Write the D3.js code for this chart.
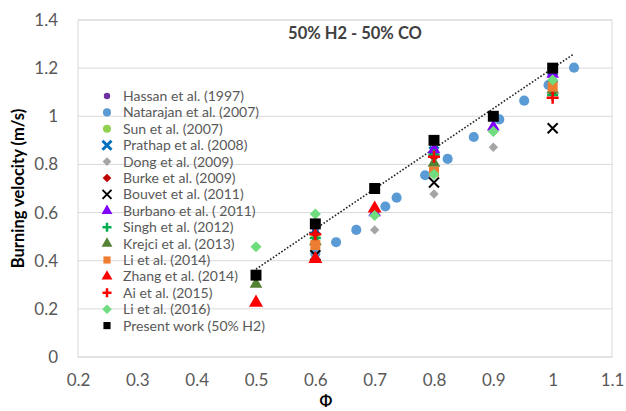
<!DOCTYPE html>
<html>
<head>
<meta charset="utf-8">
<script src="https://cdn.jsdelivr.net/npm/d3@7"></script>
<style>
  body { margin: 0; background: #fff; }
  text { font-family: Lato, "Open Sans", sans-serif; }
</style>
</head>
<body>
<script>
// x ticks / y ticks
const xTicks = [0.2, 0.3, 0.4, 0.5, 0.6, 0.7, 0.8, 0.9, 1, 1.1];
const yTicks = [0, 0.2, 0.4, 0.6, 0.8, 1, 1.2, 1.4];

// each study: [phi, burning velocity]
const hassan = [[0.6, 0.53], [0.8, 0.86], [1.0, 1.17]];
const natarajan = [[0.6, 0.43], [0.635, 0.477], [0.669, 0.528], [0.718, 0.625], [0.737, 0.662],
  [0.785, 0.755], [0.823, 0.823], [0.867, 0.914], [0.91, 0.987], [0.952, 1.065], [0.993, 1.13], [1.036, 1.202]];
const sun = [[0.6, 0.5], [0.8, 0.845], [1.0, 1.135]];
const prathap = [[0.6, 0.528], [0.8, 0.855], [1.0, 1.16]];
const dong = [[0.7, 0.528], [0.8, 0.677], [0.9, 0.871]];
const burke = [[0.6, 0.512], [0.8, 0.83], [1.0, 1.1]];
const bouvet = [[0.6, 0.423], [0.8, 0.725], [1.0, 0.95]];
const burbano = [[0.7, 0.6], [0.8, 0.862], [0.9, 0.956], [1.0, 1.175]];
const singh = [[0.6, 0.494], [0.8, 0.84], [1.0, 1.088]];
const krejci = [[0.5, 0.303], [0.6, 0.48], [0.8, 0.806], [1.0, 1.11]];
const li2014 = [[0.6, 0.465], [0.8, 0.77], [1.0, 1.123]];
const zhang = [[0.5, 0.226], [0.6, 0.407], [0.7, 0.617]];
const ai = [[0.6, 0.51], [0.8, 0.832], [1.0, 1.077]];
const li2016 = [[0.5, 0.458], [0.6, 0.594], [0.7, 0.588], [0.8, 0.759], [0.9, 0.937], [1.0, 1.151]];
const present = [[0.5, 0.34], [0.6, 0.553], [0.7, 0.70], [0.8, 0.90], [0.9, 1.0], [1.0, 1.2]];

const seriesNames = ["Hassan et al. (1997)", "Natarajan et al. (2007)", "Sun et al. (2007)",
  "Prathap et al. (2008)", "Dong et al. (2009)", "Burke et al. (2009)", "Bouvet et al. (2011)",
  "Burbano et al. ( 2011)", "Singh et al. (2012)", "Krejci et al. (2013)", "Li et al. (2014)",
  "Zhang et al. (2014)", "Ai et al. (2015)", "Li et al. (2016)", "Present work (50% H2)"];
const seriesData = [hassan, natarajan, sun, prathap, dong, burke, bouvet, burbano, singh,
  krejci, li2014, zhang, ai, li2016, present];

const styles = [
  {shape: "circle", color: "#7030A0", size: 38},
  {shape: "circle", color: "#5B9BD5", size: 80},
  {shape: "circle", color: "#92D050", size: 62},
  {shape: "xthick", color: "#0070C0", size: 9},
  {shape: "diamond", color: "#A5A5A5", size: 50},
  {shape: "diamond", color: "#C00000", size: 50},
  {shape: "x", color: "#000000", size: 10},
  {shape: "triangle", color: "#7F00FF", size: 70},
  {shape: "plus", color: "#00B050", size: 11},
  {shape: "triangle", color: "#548235", size: 70},
  {shape: "square", color: "#ED7D31", size: 100},
  {shape: "triangle", color: "#FF0000", size: 85},
  {shape: "plus", color: "#FF0000", size: 12},
  {shape: "diamond", color: "#6FDC7E", size: 70},
  {shape: "square", color: "#000000", size: 120}
];

const W = 626, H = 411;
const pLeft = 78, pRight = 612, pTop = 20, pBottom = 357;

const svg = d3.select("body").append("svg").attr("width", W).attr("height", H);

const x = d3.scaleLinear().domain([0.2, 1.1]).range([pLeft, pRight]);
const y = d3.scaleLinear().domain([0, 1.4]).range([pBottom, pTop]);

// grid
svg.append("g").selectAll("line").data(yTicks).enter().append("line")
  .attr("x1", pLeft).attr("x2", pRight)
  .attr("y1", d => y(d)).attr("y2", d => y(d))
  .attr("stroke", "#d9d9d9").attr("stroke-width", 1);
svg.append("rect").attr("x", pLeft).attr("y", pTop)
  .attr("width", pRight - pLeft).attr("height", pBottom - pTop)
  .attr("fill", "none").attr("stroke", "#d9d9d9");

// y axis labels
const yAxis = svg.append("g").attr("transform", "translate(" + (pLeft - 6) + ",0)")
  .call(d3.axisLeft(y).tickValues(yTicks).tickSize(0).tickPadding(14).tickFormat(d3.format("")));
yAxis.select(".domain").remove();
yAxis.selectAll("text").attr("fill", "#595959").style("font-size", "17px").style("font-family", "Lato, sans-serif");

const xAxis = svg.append("g").attr("transform", "translate(0," + pBottom + ")")
  .call(d3.axisBottom(x).tickValues(xTicks).tickSize(0).tickPadding(17).tickFormat(d3.format("")));
xAxis.select(".domain").remove();
xAxis.selectAll("text").attr("fill", "#595959").style("font-size", "17px").style("font-family", "Lato, sans-serif");

// titles
svg.append("text").attr("x", 355).attr("y", 39).attr("text-anchor", "middle")
  .style("font-size", "16.5px").style("font-weight", "bold").attr("fill", "#404040")
  .text("50% H2 - 50% CO");
svg.append("text").attr("transform", "translate(24," + ((pTop + pBottom) / 2) + ") rotate(-90)")
  .attr("text-anchor", "middle").style("font-size", "16.5px").style("font-weight", "bold")
  .attr("fill", "#000").text("Burning velocity (m/s)");
svg.append("text").attr("x", 326).attr("y", 406).attr("text-anchor", "middle")
  .style("font-size", "15px").style("font-weight", "bold").attr("fill", "#000").text("Φ");

// trendline from present work (least squares)
const mx = d3.mean(present, d => d[0]), my = d3.mean(present, d => d[1]);
const slope = d3.sum(present, d => (d[0] - mx) * (d[1] - my)) / d3.sum(present, d => (d[0] - mx) ** 2);
const icpt = my - slope * mx;
svg.append("line")
  .attr("x1", x(0.5)).attr("y1", y(icpt + slope * 0.5))
  .attr("x2", x(1.036)).attr("y2", y(icpt + slope * 1.036))
  .attr("stroke", "#222").attr("stroke-width", 1.6).attr("stroke-dasharray", "1.6,1.8");

function drawMarker(g, st) {
  const s = st.size;
  if (st.shape === "circle") {
    g.append("path").attr("d", d3.symbol(d3.symbolCircle, s)()).attr("fill", st.color);
  } else if (st.shape === "square") {
    g.append("path").attr("d", d3.symbol(d3.symbolSquare, s)()).attr("fill", st.color);
  } else if (st.shape === "diamond") {
    const r = Math.sqrt(s) / 1.5;
    g.append("path").attr("d", `M0,${-r}L${r},0L0,${r}L${-r},0Z`).attr("fill", st.color);
  } else if (st.shape === "triangle") {
    g.append("path").attr("d", d3.symbol(d3.symbolTriangle, s)()).attr("fill", st.color);
  } else if (st.shape === "x" || st.shape === "xthick") {
    const r = s / 2;
    g.append("path").attr("d", `M${-r},${-r}L${r},${r}M${-r},${r}L${r},${-r}`)
      .attr("stroke", st.color).attr("stroke-width", st.shape === "xthick" ? 3 : 2).attr("fill", "none");
  } else if (st.shape === "plus") {
    const r = s / 2;
    g.append("path").attr("d", `M${-r},0L${r},0M0,${-r}L0,${r}`)
      .attr("stroke", st.color).attr("stroke-width", 2.5).attr("fill", "none");
  }
}

// data marks
seriesData.forEach((data, i) => {
  const g = svg.append("g");
  g.selectAll("g").data(data).enter().append("g")
    .attr("transform", d => "translate(" + x(d[0]) + "," + y(d[1]) + ")")
    .each(function() { drawMarker(d3.select(this), styles[i]); });
});

// legend
const legend = svg.append("g");
seriesNames.forEach((name, i) => {
  const ly = 96 + i * 16.4;
  const st = Object.assign({}, styles[i]);
  st.size = st.shape === "x" || st.shape === "xthick" || st.shape === "plus" ? 9 : Math.min(st.size, 60) * 0.85;
  drawMarker(legend.append("g").attr("transform", "translate(107," + ly + ")"), st);
  legend.append("text").attr("x", 123).attr("y", ly + 5)
    .style("font-size", "14px").attr("fill", "#595959").text(name);
});
</script>
</body>
</html>
